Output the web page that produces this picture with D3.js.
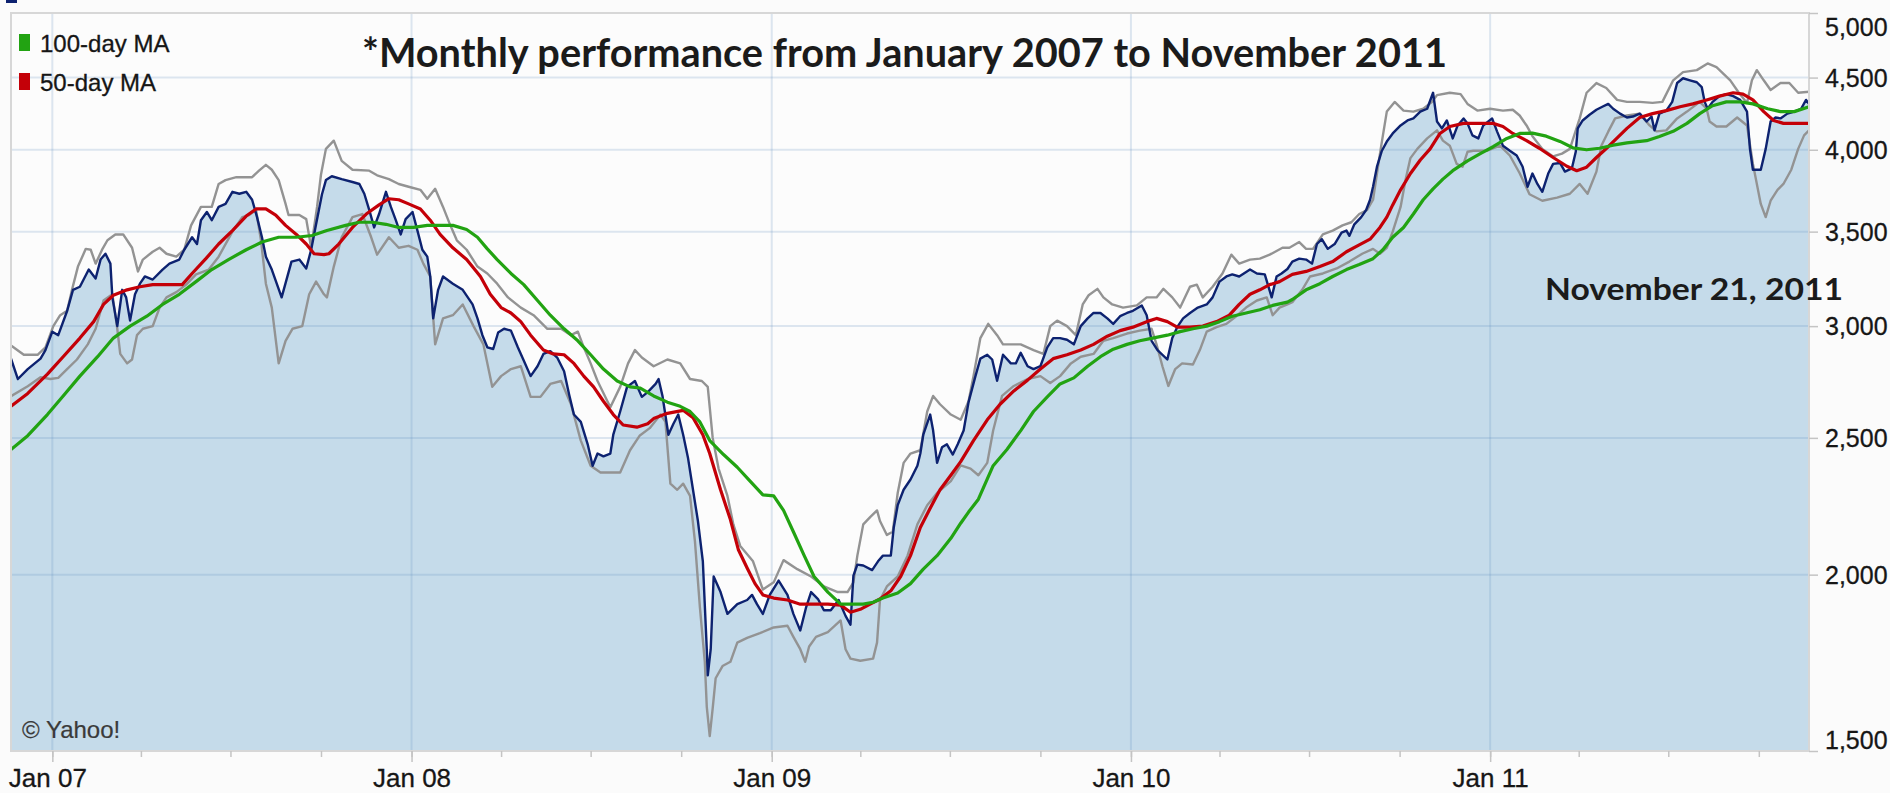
<!DOCTYPE html>
<html>
  <head>
    <meta charset="utf-8" />
    <title>Monthly performance, January 2007 to November 2011</title>
    <script src="https://d3js.org/d3.v7.min.js"></script>
    <style>
      body {
        margin: 0;
        background: #fbfbfb;
      }
      svg {
        display: block;
        font-family: "Liberation Sans", Arial, sans-serif;
      }
    </style>
  </head>
  <body>
    <div id="chart"></div>

    <script>
      // Values: [date, index level]
      const closeSeries = [
        ["2006-11-20",2845],["2006-11-27",2752],["2006-12-07",2797],["2006-12-20",2845],["2006-12-25",2885],
        ["2007-01-01",2973],["2007-01-07",2956],["2007-01-16",3075],["2007-01-22",3183],["2007-01-29",3199],
        ["2007-02-07",3290],["2007-02-14",3242],["2007-02-19",3344],["2007-02-24",3376],["2007-03-01",3322],
        ["2007-03-03",3144],["2007-03-08",3000],["2007-03-13",3183],["2007-03-17",3144],["2007-03-21",3027],
        ["2007-03-26",3160],["2007-03-31",3215],["2007-04-05",3253],["2007-04-13",3237],["2007-04-23",3290],
        ["2007-04-30",3322],["2007-05-10",3344],["2007-05-15",3398],["2007-05-23",3468],["2007-05-28",3430],
        ["2007-06-01",3566],["2007-06-07",3614],["2007-06-12",3566],["2007-06-19",3644],["2007-06-26",3662],
        ["2007-07-03",3735],["2007-07-10",3723],["2007-07-17",3735],["2007-07-23",3687],["2007-07-28",3584],
        ["2007-08-02",3468],["2007-08-06",3360],["2007-08-12",3290],["2007-08-22",3144],["2007-09-01",3333],
        ["2007-09-09",3344],["2007-09-16",3296],["2007-09-21",3398],["2007-09-26",3542],["2007-10-02",3720],
        ["2007-10-06",3807],["2007-10-12",3831],["2007-10-22",3813],["2007-11-02",3795],["2007-11-09",3783],
        ["2007-11-14",3723],["2007-11-19",3626],["2007-11-24",3524],["2007-11-29",3602],["2007-12-06",3735],
        ["2007-12-11",3644],["2007-12-16",3566],["2007-12-21",3484],["2007-12-26",3572],["2008-01-02",3614],
        ["2008-01-07",3506],["2008-01-12",3398],["2008-01-17",3360],["2008-01-20",3253],["2008-01-23",3038],
        ["2008-01-28",3183],["2008-02-02",3253],["2008-02-12",3215],["2008-02-22",3183],["2008-03-03",3108],
        ["2008-03-08",3038],["2008-03-13",2956],["2008-03-18",2898],["2008-03-24",2890],["2008-03-29",2969],
        ["2008-04-04",2987],["2008-04-11",2978],["2008-04-18",2898],["2008-04-24",2836],["2008-05-01",2765],
        ["2008-05-08",2810],["2008-05-14",2867],["2008-05-21",2880],["2008-05-28",2850],["2008-06-04",2787],
        ["2008-06-09",2686],["2008-06-14",2597],["2008-06-21",2566],["2008-06-28",2474],["2008-07-03",2389],
        ["2008-07-08",2437],["2008-07-14",2426],["2008-07-21",2437],["2008-07-24",2513],["2008-07-31",2610],
        ["2008-08-07",2717],["2008-08-15",2743],["2008-08-22",2673],["2008-08-28",2694],["2008-09-05",2730],
        ["2008-09-08",2752],["2008-09-12",2677],["2008-09-18",2513],["2008-09-23",2557],["2008-09-28",2597],
        ["2008-10-03",2513],["2008-10-08",2418],["2008-10-13",2297],["2008-10-18",2183],["2008-10-23",2044],
        ["2008-10-27",1771],["2008-10-28",1697],["2008-10-31",1771],["2008-11-03",1994],["2008-11-10",1944],
        ["2008-11-17",1876],["2008-11-27",1906],["2008-12-07",1919],["2008-12-12",1935],["2008-12-17",1906],
        ["2008-12-23",1876],["2008-12-30",1935],["2009-01-08",1981],["2009-01-17",1935],["2009-01-23",1876],
        ["2009-01-30",1826],["2009-02-05",1897],["2009-02-10",1944],["2009-02-17",1922],["2009-02-23",1887],
        ["2009-03-02",1887],["2009-03-10",1919],["2009-03-17",1870],["2009-03-22",1843],["2009-03-25",1997],
        ["2009-03-29",2033],["2009-04-04",2030],["2009-04-13",2015],["2009-04-19",2044],["2009-04-24",2063],
        ["2009-05-02",2063],["2009-05-05",2160],["2009-05-09",2240],["2009-05-15",2297],["2009-05-22",2336],
        ["2009-05-29",2389],["2009-06-01",2437],["2009-06-04",2513],["2009-06-11",2597],["2009-06-14",2530],
        ["2009-06-18",2400],["2009-06-23",2462],["2009-06-28",2474],["2009-07-04",2433],["2009-07-09",2474],
        ["2009-07-15",2530],["2009-07-20",2650],["2009-07-27",2765],["2009-08-01",2845],["2009-08-08",2863],
        ["2009-08-13",2841],["2009-08-18",2744],["2009-08-24",2863],["2009-09-01",2823],["2009-09-06",2823],
        ["2009-09-11",2872],["2009-09-18",2810],["2009-09-24",2797],["2009-10-01",2810],["2009-10-08",2898],
        ["2009-10-14",2942],["2009-10-21",2942],["2009-10-28",2934],["2009-11-04",2912],["2009-11-11",3000],
        ["2009-11-18",3038],["2009-11-24",3065],["2009-12-01",3065],["2009-12-08",3038],["2009-12-14",3011],
        ["2009-12-21",3049],["2009-12-28",3065],["2010-01-03",3076],["2010-01-12",3103],["2010-01-17",3054],
        ["2010-01-22",2929],["2010-01-28",2885],["2010-02-07",2841],["2010-02-12",2942],["2010-02-17",2995],
        ["2010-02-23",3038],["2010-03-02",3065],["2010-03-10",3092],["2010-03-19",3108],["2010-03-25",3144],
        ["2010-04-01",3226],["2010-04-08",3253],["2010-04-14",3264],["2010-04-21",3253],["2010-05-02",3290],
        ["2010-05-09",3269],["2010-05-17",3264],["2010-05-24",3144],["2010-05-29",3253],["2010-06-03",3269],
        ["2010-06-09",3293],["2010-06-14",3333],["2010-06-21",3349],["2010-06-28",3344],["2010-07-04",3322],
        ["2010-07-09",3430],["2010-07-14",3457],["2010-07-20",3403],["2010-07-27",3430],["2010-08-03",3494],
        ["2010-08-08",3506],["2010-08-11",3476],["2010-08-16",3542],["2010-08-23",3584],["2010-08-28",3626],
        ["2010-09-01",3687],["2010-09-04",3766],["2010-09-08",3891],["2010-09-13",3994],["2010-09-18",4054],
        ["2010-09-24",4108],["2010-10-02",4162],["2010-10-09",4196],["2010-10-15",4210],["2010-10-22",4257],
        ["2010-10-29",4277],["2010-11-04",4390],["2010-11-08",4189],["2010-11-13",4142],["2010-11-18",4196],
        ["2010-11-24",4075],["2010-11-29",4162],["2010-12-05",4210],["2010-12-09",4176],["2010-12-14",4095],
        ["2010-12-20",4075],["2010-12-25",4162],["2011-01-03",4210],["2011-01-08",4122],["2011-01-14",4027],
        ["2011-01-21",3994],["2011-01-28",3963],["2011-02-03",3891],["2011-02-08",3766],["2011-02-13",3848],
        ["2011-02-18",3783],["2011-02-23",3735],["2011-03-01",3848],["2011-03-06",3909],["2011-03-13",3915],
        ["2011-03-18",3860],["2011-03-25",3880],["2011-03-29",3987],["2011-03-31",4142],["2011-04-05",4196],
        ["2011-04-12",4235],["2011-04-19",4270],["2011-04-25",4291],["2011-05-01",4311],["2011-05-06",4277],
        ["2011-05-13",4243],["2011-05-20",4216],["2011-05-26",4223],["2011-06-02",4243],["2011-06-09",4189],
        ["2011-06-14",4223],["2011-06-17",4129],["2011-06-22",4243],["2011-06-29",4264],["2011-07-05",4325],
        ["2011-07-10",4460],["2011-07-16",4495],["2011-07-23",4480],["2011-07-30",4466],["2011-08-04",4431],
        ["2011-08-07",4325],["2011-08-10",4277],["2011-08-15",4325],["2011-08-22",4366],["2011-08-29",4380],
        ["2011-09-05",4366],["2011-09-12",4339],["2011-09-19",4257],["2011-09-22",4006],["2011-09-25",3872],
        ["2011-10-03",3872],["2011-10-08",4006],["2011-10-13",4189],["2011-10-18",4216],["2011-10-23",4210],
        ["2011-10-30",4243],["2011-11-06",4257],["2011-11-13",4277],["2011-11-18",4339],["2011-11-21",4311]
      ];

      // Upper and lower Bollinger bands (grey)
      const upperBand = [
        ["2006-11-20",2907],["2006-12-03",2863],["2006-12-17",2863],["2006-12-25",2898],["2007-01-02",3000],
        ["2007-01-09",3054],["2007-01-16",3076],["2007-01-21",3183],["2007-01-27",3306],["2007-02-04",3403],
        ["2007-02-09",3398],["2007-02-14",3322],["2007-02-21",3403],["2007-02-26",3451],["2007-03-06",3484],
        ["2007-03-14",3484],["2007-03-23",3409],["2007-03-29",3280],["2007-04-03",3344],["2007-04-13",3387],
        ["2007-04-20",3409],["2007-04-27",3376],["2007-05-07",3360],["2007-05-15",3398],["2007-05-22",3536],
        ["2007-06-01",3644],["2007-06-12",3644],["2007-06-19",3783],["2007-06-26",3807],["2007-07-07",3825],
        ["2007-07-23",3825],["2007-07-30",3866],["2007-08-06",3903],["2007-08-12",3872],["2007-08-19",3807],
        ["2007-08-26",3662],["2007-08-29",3596],["2007-09-09",3596],["2007-09-16",3572],["2007-09-21",3409],
        ["2007-09-27",3644],["2007-10-01",3842],["2007-10-06",4006],["2007-10-14",4060],["2007-10-22",3928],
        ["2007-11-02",3872],["2007-11-19",3866],["2007-11-27",3837],["2007-12-09",3813],["2007-12-19",3783],
        ["2007-12-29",3766],["2008-01-10",3747],["2008-01-17",3693],["2008-01-25",3753],["2008-02-02",3644],
        ["2008-02-09",3542],["2008-02-16",3451],["2008-02-26",3398],["2008-03-08",3306],["2008-03-18",3269],
        ["2008-03-28",3215],["2008-04-08",3144],["2008-04-21",3092],["2008-05-04",3054],["2008-05-18",2987],
        ["2008-06-01",2987],["2008-06-11",2956],["2008-06-18",2973],["2008-06-24",2898],["2008-07-01",2823],
        ["2008-07-08",2743],["2008-07-21",2628],["2008-07-31",2717],["2008-08-08",2823],["2008-08-15",2885],
        ["2008-08-22",2850],["2008-09-03",2810],["2008-09-17",2841],["2008-09-30",2823],["2008-10-10",2752],
        ["2008-10-22",2743],["2008-10-28",2717],["2008-11-02",2500],["2008-11-08",2378],["2008-11-17",2274],
        ["2008-11-23",2171],["2008-11-30",2096],["2008-12-13",2044],["2008-12-23",1952],["2009-01-03",1975],
        ["2009-01-13",2048],["2009-01-27",2018],["2009-02-10",1994],["2009-02-23",1962],["2009-03-09",1944],
        ["2009-03-19",1944],["2009-03-25",1975],["2009-03-29",2063],["2009-04-04",2171],["2009-04-11",2197],
        ["2009-04-18",2221],["2009-04-21",2183],["2009-04-28",2134],["2009-05-04",2145],["2009-05-09",2285],
        ["2009-05-15",2400],["2009-05-22",2437],["2009-06-01",2450],["2009-06-08",2610],["2009-06-14",2677],
        ["2009-06-21",2641],["2009-07-02",2597],["2009-07-12",2575],["2009-07-20",2654],["2009-07-25",2765],
        ["2009-08-01",2942],["2009-08-09",3011],["2009-08-18",2956],["2009-08-24",2912],["2009-09-11",2912],
        ["2009-09-24",2885],["2009-10-04",2867],["2009-10-11",3000],["2009-10-18",3027],["2009-10-28",3000],
        ["2009-11-06",2956],["2009-11-13",3108],["2009-11-19",3155],["2009-11-28",3188],["2009-12-04",3144],
        ["2009-12-13",3108],["2009-12-24",3092],["2010-01-07",3103],["2010-01-17",3144],["2010-01-27",3144],
        ["2010-02-03",3188],["2010-02-12",3144],["2010-02-20",3092],["2010-03-02",3199],["2010-03-09",3210],
        ["2010-03-15",3144],["2010-03-25",3199],["2010-04-04",3269],["2010-04-13",3371],["2010-04-21",3322],
        ["2010-05-02",3344],["2010-05-12",3349],["2010-05-22",3371],["2010-06-04",3409],["2010-06-11",3409],
        ["2010-06-21",3441],["2010-06-28",3403],["2010-07-05",3403],["2010-07-15",3484],["2010-07-25",3506],
        ["2010-08-04",3536],["2010-08-13",3554],["2010-08-21",3602],["2010-08-29",3626],["2010-09-04",3687],
        ["2010-09-09",3891],["2010-09-13",4054],["2010-09-18",4257],["2010-09-26",4325],["2010-10-05",4264],
        ["2010-10-15",4257],["2010-10-25",4277],["2010-11-03",4325],["2010-11-08",4373],["2010-11-21",4390],
        ["2010-12-02",4380],["2010-12-09",4311],["2010-12-19",4264],["2011-01-01",4277],["2011-01-14",4264],
        ["2011-01-24",4270],["2011-01-31",4230],["2011-02-07",4162],["2011-02-13",4090],["2011-02-23",4006],
        ["2011-03-06",3957],["2011-03-15",3975],["2011-03-23",4006],["2011-04-02",4210],["2011-04-09",4390],
        ["2011-04-19",4460],["2011-04-29",4424],["2011-05-10",4339],["2011-05-20",4325],["2011-06-02",4325],
        ["2011-06-15",4318],["2011-06-25",4325],["2011-07-06",4480],["2011-07-16",4540],["2011-07-30",4555],
        ["2011-08-10",4605],["2011-08-19",4577],["2011-09-02",4480],["2011-09-10",4397],["2011-09-19",4318],
        ["2011-09-24",4480],["2011-09-29",4555],["2011-10-06",4480],["2011-10-13",4410],["2011-10-23",4460],
        ["2011-11-01",4460],["2011-11-10",4390],["2011-11-21",4397]
      ];

      const lowerBand = [
        ["2006-11-20",2676],["2006-12-07",2720],["2006-12-20",2760],["2006-12-30",2752],["2007-01-07",2757],
        ["2007-01-16",2797],["2007-01-26",2841],["2007-02-06",2912],["2007-02-14",2987],["2007-02-22",3128],
        ["2007-03-03",3160],["2007-03-08",2987],["2007-03-11",2867],["2007-03-18",2823],["2007-03-23",2841],
        ["2007-03-28",2956],["2007-04-03",2987],["2007-04-13",3000],["2007-04-20",3092],["2007-04-27",3144],
        ["2007-05-07",3171],["2007-05-17",3210],["2007-05-27",3264],["2007-06-09",3290],["2007-06-19",3360],
        ["2007-07-03",3500],["2007-07-13",3584],["2007-07-20",3596],["2007-07-27",3626],["2007-08-01",3451],
        ["2007-08-06",3215],["2007-08-12",3092],["2007-08-19",2823],["2007-08-26",2929],["2007-09-02",2987],
        ["2007-09-12",3000],["2007-09-19",3160],["2007-09-26",3226],["2007-10-04",3160],["2007-10-07",3144],
        ["2007-10-14",3306],["2007-10-22",3468],["2007-11-02",3584],["2007-11-12",3602],["2007-11-21",3468],
        ["2007-11-27",3371],["2007-12-09",3468],["2007-12-19",3409],["2007-12-29",3420],["2008-01-07",3398],
        ["2008-01-13",3322],["2008-01-20",3253],["2008-01-25",2912],["2008-02-02",3038],["2008-02-12",3054],
        ["2008-02-22",3108],["2008-03-04",3000],["2008-03-14",2912],["2008-03-23",2717],["2008-04-01",2765],
        ["2008-04-11",2797],["2008-04-21",2810],["2008-05-01",2673],["2008-05-11",2673],["2008-05-21",2730],
        ["2008-06-01",2743],["2008-06-11",2641],["2008-06-21",2489],["2008-07-01",2389],["2008-07-11",2363],
        ["2008-07-21",2363],["2008-07-31",2363],["2008-08-10",2450],["2008-08-20",2510],["2008-08-30",2540],
        ["2008-09-10",2597],["2008-09-15",2566],["2008-09-20",2320],["2008-09-27",2297],["2008-10-03",2320],
        ["2008-10-10",2274],["2008-10-15",2111],["2008-10-20",1897],["2008-10-25",1735],["2008-10-27",1612],
        ["2008-10-30",1537],["2008-11-02",1608],["2008-11-05",1689],["2008-11-12",1723],["2008-11-20",1735],
        ["2008-11-27",1790],["2008-12-07",1804],["2008-12-20",1818],["2009-01-03",1835],["2009-01-17",1840],
        ["2009-01-23",1807],["2009-01-30",1771],["2009-02-04",1735],["2009-02-08",1779],["2009-02-15",1807],
        ["2009-02-27",1821],["2009-03-12",1856],["2009-03-17",1771],["2009-03-22",1744],["2009-04-01",1738],
        ["2009-04-14",1744],["2009-04-18",1790],["2009-04-21",1919],["2009-04-28",1962],["2009-05-09",1994],
        ["2009-05-19",2063],["2009-05-29",2171],["2009-06-08",2240],["2009-06-18",2285],["2009-07-02",2330],
        ["2009-07-12",2390],["2009-07-22",2378],["2009-07-30",2352],["2009-08-08",2400],["2009-08-14",2530],
        ["2009-08-23",2677],["2009-09-04",2721],["2009-09-18",2752],["2009-10-01",2765],["2009-10-11",2734],
        ["2009-10-21",2765],["2009-11-01",2823],["2009-11-11",2854],["2009-11-24",2867],["2009-12-04",2929],
        ["2009-12-14",2942],["2009-12-28",2964],["2010-01-10",2978],["2010-01-22",2987],["2010-01-27",2912],
        ["2010-02-02",2810],["2010-02-08",2721],["2010-02-15",2797],["2010-02-22",2823],["2010-03-05",2818],
        ["2010-03-12",2885],["2010-03-19",2973],["2010-03-29",2995],["2010-04-08",3011],["2010-04-18",3049],
        ["2010-04-28",3092],["2010-05-09",3128],["2010-05-19",3144],["2010-05-25",3054],["2010-06-01",3092],
        ["2010-06-09",3108],["2010-06-14",3119],["2010-06-24",3183],["2010-07-02",3253],["2010-07-15",3269],
        ["2010-07-29",3296],["2010-08-11",3333],["2010-08-24",3376],["2010-09-04",3403],["2010-09-11",3376],
        ["2010-09-18",3409],["2010-09-24",3500],["2010-10-02",3644],["2010-10-07",3807],["2010-10-12",3946],
        ["2010-10-19",4006],["2010-10-29",4075],["2010-11-08",4129],["2010-11-14",4060],["2010-11-21",4027],
        ["2010-11-28",3909],["2010-12-04",3891],["2010-12-09",3987],["2010-12-15",3994],["2010-12-29",3994],
        ["2011-01-11",4027],["2011-01-21",3963],["2011-01-31",3850],["2011-02-10",3720],["2011-02-23",3681],
        ["2011-03-10",3700],["2011-03-23",3723],["2011-04-02",3783],["2011-04-10",3723],["2011-04-19",3860],
        ["2011-04-24",4027],["2011-05-01",4120],["2011-05-08",4210],["2011-05-20",4230],["2011-06-02",4243],
        ["2011-06-12",4162],["2011-06-19",4122],["2011-06-29",4129],["2011-07-10",4210],["2011-07-20",4257],
        ["2011-08-02",4325],["2011-08-09",4277],["2011-08-12",4189],["2011-08-19",4155],["2011-08-29",4155],
        ["2011-09-09",4216],["2011-09-19",4162],["2011-09-25",3909],["2011-10-03",3662],["2011-10-08",3584],
        ["2011-10-13",3681],["2011-10-20",3747],["2011-10-26",3783],["2011-11-03",3872],["2011-11-10",4006],
        ["2011-11-16",4095],["2011-11-21",4129]
      ];

      // 50-day moving average (red)
      const ma50 = [
        ["2006-11-20",2632],["2006-12-07",2688],["2006-12-27",2774],["2007-01-12",2854],["2007-01-29",2942],
        ["2007-02-12",3022],["2007-02-22",3108],["2007-03-04",3155],["2007-03-18",3183],["2007-03-31",3199],
        ["2007-04-13",3210],["2007-04-30",3210],["2007-05-13",3210],["2007-05-23",3269],["2007-06-06",3349],
        ["2007-06-19",3430],["2007-07-03",3506],["2007-07-17",3590],["2007-07-27",3632],["2007-08-06",3632],
        ["2007-08-16",3596],["2007-08-26",3536],["2007-09-06",3484],["2007-09-16",3430],["2007-09-24",3376],
        ["2007-10-04",3371],["2007-10-09",3376],["2007-10-19",3430],["2007-11-02",3524],["2007-11-16",3602],
        ["2007-11-29",3656],["2007-12-09",3693],["2007-12-19",3687],["2007-12-29",3662],["2008-01-10",3632],
        ["2008-01-20",3566],["2008-01-30",3484],["2008-02-12",3409],["2008-02-26",3344],["2008-03-11",3253],
        ["2008-03-21",3160],["2008-04-01",3092],["2008-04-11",3065],["2008-04-21",3022],["2008-05-01",2956],
        ["2008-05-14",2885],["2008-05-24",2867],["2008-06-04",2863],["2008-06-14",2823],["2008-06-24",2765],
        ["2008-07-04",2717],["2008-07-14",2654],["2008-07-24",2597],["2008-08-03",2553],["2008-08-17",2544],
        ["2008-08-28",2558],["2008-09-03",2580],["2008-09-17",2602],["2008-10-03",2615],["2008-10-13",2584],
        ["2008-10-23",2513],["2008-10-30",2437],["2008-11-10",2297],["2008-11-20",2188],["2008-11-28",2084],
        ["2008-12-07",2022],["2008-12-15",1971],["2008-12-23",1935],["2009-01-03",1925],["2009-01-17",1919],
        ["2009-01-30",1906],["2009-02-13",1906],["2009-02-27",1906],["2009-03-12",1903],["2009-03-22",1881],
        ["2009-04-01",1890],["2009-04-11",1906],["2009-04-21",1922],["2009-05-02",1948],["2009-05-12",1994],
        ["2009-05-22",2063],["2009-06-01",2160],["2009-06-11",2229],["2009-06-21",2297],["2009-07-02",2352],
        ["2009-07-12",2405],["2009-07-25",2489],["2009-08-08",2575],["2009-08-21",2641],["2009-09-04",2699],
        ["2009-09-18",2747],["2009-10-01",2797],["2009-10-14",2845],["2009-10-28",2863],["2009-11-11",2885],
        ["2009-11-24",2912],["2009-12-08",2951],["2009-12-21",2978],["2010-01-03",2995],["2010-01-17",3022],
        ["2010-01-27",3038],["2010-02-07",3022],["2010-02-17",2995],["2010-03-02",2995],["2010-03-15",3000],
        ["2010-03-29",3022],["2010-04-11",3054],["2010-04-21",3108],["2010-05-02",3160],["2010-05-12",3183],
        ["2010-05-22",3210],["2010-06-01",3226],["2010-06-14",3264],["2010-06-28",3280],["2010-07-12",3306],
        ["2010-07-25",3333],["2010-08-08",3387],["2010-08-21",3425],["2010-09-01",3457],["2010-09-11",3524],
        ["2010-09-18",3584],["2010-09-24",3656],["2010-10-02",3747],["2010-10-12",3848],["2010-10-22",3934],
        ["2010-11-01",4006],["2010-11-11",4108],["2010-11-21",4155],["2010-12-05",4176],["2010-12-22",4176],
        ["2011-01-04",4176],["2011-01-14",4155],["2011-01-24",4108],["2011-02-07",4060],["2011-02-20",4010],
        ["2011-03-06",3950],["2011-03-20",3894],["2011-03-30",3866],["2011-04-09",3888],["2011-04-19",3950],
        ["2011-05-01",4020],["2011-05-20",4142],["2011-06-02",4216],["2011-06-15",4243],["2011-06-29",4264],
        ["2011-07-13",4291],["2011-07-26",4311],["2011-08-09",4339],["2011-08-22",4366],["2011-09-05",4390],
        ["2011-09-15",4380],["2011-09-25",4339],["2011-10-06",4257],["2011-10-16",4196],["2011-10-26",4176],
        ["2011-11-06",4176],["2011-11-21",4176]
      ];

      // 100-day moving average (green)
      const ma100 = [
        ["2006-11-20",2453],["2006-12-07",2509],["2006-12-27",2597],["2007-01-12",2677],["2007-01-29",2765],
        ["2007-02-16",2854],["2007-03-04",2942],["2007-03-21",3000],["2007-04-07",3049],["2007-04-23",3108],
        ["2007-05-10",3160],["2007-05-27",3226],["2007-06-12",3290],["2007-06-29",3344],["2007-07-17",3398],
        ["2007-08-02",3441],["2007-08-19",3468],["2007-09-06",3468],["2007-09-22",3478],["2007-10-07",3506],
        ["2007-10-26",3536],["2007-11-09",3554],["2007-11-22",3554],["2007-12-06",3542],["2007-12-19",3524],
        ["2008-01-03",3524],["2008-01-17",3536],["2008-01-30",3536],["2008-02-12",3536],["2008-02-26",3512],
        ["2008-03-08",3468],["2008-03-18",3403],["2008-03-28",3344],["2008-04-11",3269],["2008-04-24",3210],
        ["2008-05-08",3128],["2008-05-21",3054],["2008-06-04",2987],["2008-06-18",2929],["2008-07-01",2863],
        ["2008-07-14",2797],["2008-07-28",2743],["2008-08-10",2717],["2008-08-20",2712],["2008-09-03",2677],
        ["2008-09-17",2650],["2008-09-30",2632],["2008-10-10",2610],["2008-10-20",2566],["2008-10-30",2489],
        ["2008-11-13",2433],["2008-11-27",2383],["2008-12-10",2330],["2008-12-23",2278],["2009-01-03",2274],
        ["2009-01-13",2221],["2009-01-23",2145],["2009-02-03",2063],["2009-02-13",1994],["2009-02-27",1944],
        ["2009-03-12",1906],["2009-03-22",1906],["2009-04-04",1906],["2009-04-14",1912],["2009-04-24",1925],
        ["2009-05-09",1941],["2009-05-22",1971],["2009-06-04",2018],["2009-06-18",2063],["2009-07-02",2122],
        ["2009-07-12",2175],["2009-07-20",2215],["2009-07-30",2262],["2009-08-14",2389],["2009-08-28",2453],
        ["2009-09-11",2530],["2009-09-24",2610],["2009-10-08",2673],["2009-10-21",2730],["2009-11-04",2757],
        ["2009-11-18",2810],["2009-12-01",2854],["2009-12-14",2889],["2009-12-28",2912],["2010-01-10",2929],
        ["2010-01-23",2942],["2010-02-07",2956],["2010-02-20",2973],["2010-03-05",2987],["2010-03-19",3000],
        ["2010-04-01",3022],["2010-04-14",3049],["2010-04-28",3065],["2010-05-12",3081],["2010-05-25",3103],
        ["2010-06-09",3120],["2010-06-14",3133],["2010-06-28",3183],["2010-07-12",3215],["2010-07-25",3253],
        ["2010-08-08",3290],["2010-08-21",3317],["2010-09-04",3349],["2010-09-14",3398],["2010-09-24",3468],
        ["2010-10-05",3524],["2010-10-15",3602],["2010-10-25",3687],["2010-11-04",3753],["2010-11-14",3813],
        ["2010-11-24",3866],["2010-12-09",3928],["2010-12-22",3975],["2011-01-04",4020],["2011-01-18",4075],
        ["2011-01-31",4108],["2011-02-13",4110],["2011-02-27",4090],["2011-03-13",4055],["2011-03-26",4013],
        ["2011-04-09",4000],["2011-04-22",4010],["2011-05-06",4030],["2011-05-20",4045],["2011-06-09",4060],
        ["2011-06-22",4088],["2011-07-06",4122],["2011-07-20",4176],["2011-08-02",4243],["2011-08-15",4298],
        ["2011-08-29",4325],["2011-09-12",4325],["2011-09-25",4311],["2011-10-10",4277],["2011-10-23",4257],
        ["2011-11-06",4257],["2011-11-21",4291]
      ];

      const yTicks = [1500, 2000, 2500, 3000, 3500, 4000, 4500, 5000];
      const yearStarts = ["2007-01-01", "2008-01-01", "2009-01-01", "2010-01-01", "2011-01-01"];
      const legendItems = [
        { label: "100-day MA", color: "#22a312" },
        { label: "50-day MA", color: "#c40008" }
      ];
      const titleText = "*Monthly performance from January 2007 to November 2011";
      const dateNote = "November 21, 2011";

      const width = 1890;
      const height = 793;
      const plot = { left: 11, top: 13, right: 1809, bottom: 751 };
      const labelFont = "'Liberation Sans', Arial, sans-serif";
      const textColor = "#161616";

      const parse = d3.timeParse("%Y-%m-%d");
      const rows = s => s.map(d => ({ date: parse(d[0]), value: d[1] }));

      const x = d3
        .scaleTime()
        .domain([parse("2006-11-20"), parse("2011-11-21")])
        .range([plot.left, plot.right]);
      const y = d3.scaleLog().domain([1500, 5000]).range([plot.bottom, plot.top]);

      const svg = d3
        .select("#chart")
        .append("svg")
        .attr("width", width)
        .attr("height", height);

      svg.append("defs")
        .append("clipPath")
        .attr("id", "plot-clip")
        .append("rect")
        .attr("x", plot.left)
        .attr("y", plot.top)
        .attr("width", plot.right - plot.left)
        .attr("height", plot.bottom - plot.top);

      // cut-off legend square at the very top edge
      svg.append("rect")
        .attr("x", 6).attr("y", -9).attr("width", 11).attr("height", 12)
        .attr("fill", "#0d2270");

      svg.append("rect")
        .attr("x", plot.left).attr("y", plot.top)
        .attr("width", plot.right - plot.left).attr("height", plot.bottom - plot.top)
        .attr("fill", "#fcfcfc");

      const g = svg.append("g").attr("clip-path", "url(#plot-clip)");

      // price area
      g.append("path")
        .datum(rows(closeSeries))
        .attr("fill", "#c5dbea")
        .attr("d", d3.area().x(d => x(d.date)).y0(plot.bottom).y1(d => y(d.value)));

      // grid lines on top of the fill
      const gridColor = "rgba(95,140,190,0.2)";
      g.selectAll(".hgrid")
        .data(yTicks.filter(v => v > 1500 && v < 5000))
        .enter()
        .append("line")
        .attr("x1", plot.left).attr("x2", plot.right)
        .attr("y1", d => y(d)).attr("y2", d => y(d))
        .attr("stroke", gridColor).attr("stroke-width", 2);
      g.selectAll(".vgrid")
        .data(yearStarts.map(parse))
        .enter()
        .append("line")
        .attr("x1", d => x(d)).attr("x2", d => x(d))
        .attr("y1", plot.top).attr("y2", plot.bottom)
        .attr("stroke", gridColor).attr("stroke-width", 2);

      const line = d3.line().x(d => x(d.date)).y(d => y(d.value));
      const drawLine = (series, color, w) =>
        g.append("path")
          .datum(rows(series))
          .attr("fill", "none")
          .attr("stroke", color)
          .attr("stroke-width", w)
          .attr("stroke-linejoin", "round")
          .attr("d", line);

      drawLine(upperBand, "#939393", 2.4);
      drawLine(lowerBand, "#939393", 2.4);
      drawLine(closeSeries, "#0d2270", 2.4);
      drawLine(ma50, legendItems[1].color, 3.2);
      drawLine(ma100, legendItems[0].color, 3.2);

      // frame
      svg.append("path")
        .attr("d", `M${plot.left},${plot.top}H${plot.right}V${plot.bottom}H${plot.left}Z`)
        .attr("fill", "none")
        .attr("stroke", "#d7d7d7")
        .attr("stroke-width", 2);

      // x axis: quarter ticks plus labelled year ticks
      const xMinor = svg.append("g")
        .attr("transform", `translate(0,${plot.bottom})`)
        .call(d3.axisBottom(x).ticks(d3.timeMonth.every(3)).tickSize(6).tickFormat(""));
      const xMajor = svg.append("g")
        .attr("transform", `translate(0,${plot.bottom})`)
        .call(d3.axisBottom(x).tickValues(yearStarts.map(parse)).tickSize(11)
          .tickFormat(d3.timeFormat("Jan %y")));
      [xMinor, xMajor].forEach(a => {
        a.select(".domain").remove();
        a.selectAll("line").attr("stroke", "#c4c4c4").attr("stroke-width", 1.5);
      });
      xMajor.selectAll("text")
        .attr("y", 36).attr("dy", 0)
        .attr("fill", textColor)
        .attr("stroke", textColor).attr("stroke-width", 0.3)
        .style("font-size", "26px")
        .style("font-family", labelFont);
      // first label sits against the left edge
      xMajor.selectAll("text").filter((d, i) => i === 0)
        .attr("text-anchor", "start").attr("x", -44);

      // y axis on the right, log scale
      const yAxis = svg.append("g")
        .attr("transform", `translate(${plot.right},0)`)
        .call(d3.axisRight(y).tickValues(yTicks).tickFormat(d3.format(",")).tickSize(9).tickPadding(7));
      yAxis.select(".domain").remove();
      yAxis.selectAll("line").attr("stroke", "#c4c4c4").attr("stroke-width", 1.5);
      yAxis.selectAll("text")
        .attr("fill", textColor)
        .attr("stroke", textColor).attr("stroke-width", 0.3)
        .style("font-size", "25px")
        .style("font-family", labelFont)
        .attr("dy", d => (d === 5000 ? "0.9em" : d === 1500 ? "-0.1em" : "0.35em"));

      // legend
      const legend = svg.append("g");
      legendItems.forEach((item, i) => {
        legend.append("rect")
          .attr("x", 19).attr("y", 34 + i * 39)
          .attr("width", 11).attr("height", 17)
          .attr("fill", item.color);
        legend.append("text")
          .attr("x", 40).attr("y", 52 + i * 39)
          .attr("fill", textColor)
          .attr("stroke", textColor).attr("stroke-width", 0.3)
          .style("font-size", "24px")
          .text(item.label);
      });

      svg.append("text")
        .attr("x", 22).attr("y", 738)
        .attr("fill", "#3a3a3a")
        .attr("stroke", "#3a3a3a").attr("stroke-width", 0.2)
        .style("font-size", "24px")
        .text("\u00a9 Yahoo!");

      // annotations
      svg.append("text")
        .attr("x", 362).attr("y", 67)
        .attr("fill", "#1b1b1b")
        .attr("textLength", 1085)
        .attr("lengthAdjust", "spacingAndGlyphs")
        .style("font-family", "Lato, 'Open Sans', sans-serif")
        .style("font-weight", 700)
        .style("font-size", "40px")
        .text(titleText);

      svg.append("text")
        .attr("x", 1545).attr("y", 300)
        .attr("fill", "#1b1b1b")
        .attr("textLength", 298)
        .attr("lengthAdjust", "spacingAndGlyphs")
        .style("font-family", "Lato, 'Open Sans', sans-serif")
        .style("font-weight", 700)
        .style("font-size", "31px")
        .text(dateNote);
    </script>
  </body>
</html>
